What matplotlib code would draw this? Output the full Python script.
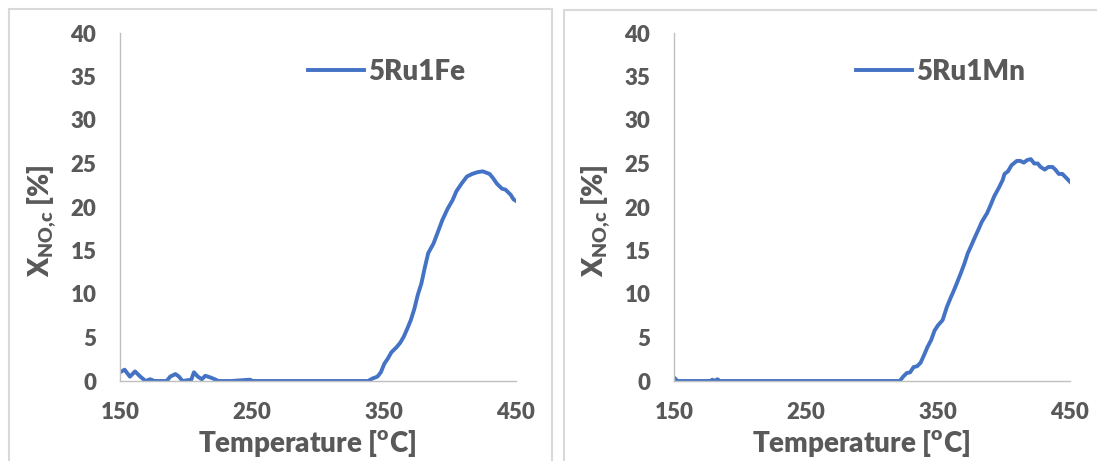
import matplotlib
matplotlib.use("Agg")
import matplotlib.pyplot as plt
from matplotlib.patches import Rectangle

plt.rcParams['font.family'] = ['Lato', 'DejaVu Sans']
plt.rcParams['font.weight'] = 'heavy'

# 5Ru1Fe: temperature [C] and NO conversion [%]
t_fe = [150, 153.5, 157.5, 161.4, 165.4, 169.4, 172.9, 176, 185.4, 188, 192, 194.7,
        197.3, 204, 206, 209, 212, 214.6, 218.6, 221.8, 224.5, 234.6, 248.4, 250.5,
        338, 341, 345, 347.6, 350.3, 353, 355.6, 359.6, 362.3, 365, 367.6, 370.3,
        373, 375.6, 378.3, 381, 383.5, 387.5, 391.5, 394.2, 398.2, 402, 404.8, 408.8,
        412.8, 416.8, 420.8, 424.8, 430, 432.7, 435.4, 439.4, 442, 446, 448, 450]
x_fe = [1.0, 1.3, 0.5, 1.1, 0.5, 0.0, 0.2, 0.0, 0.0, 0.5, 0.8, 0.5,
        0.0, 0.15, 1.0, 0.5, 0.2, 0.6, 0.4, 0.2, 0.0, 0.0, 0.15, 0.0,
        0.0, 0.27, 0.5, 1.0, 2.0, 2.6, 3.3, 3.9, 4.4, 5.1, 6.0, 7.0,
        8.3, 9.9, 11.2, 13.1, 14.7, 15.8, 17.4, 18.5, 19.8, 20.8, 21.8, 22.7,
        23.5, 23.8, 24.0, 24.1, 23.8, 23.3, 22.7, 22.1, 22.0, 21.4, 20.9, 20.7]

# 5Ru1Mn
t_mn = [150, 152.6, 177.8, 179, 180.5, 183, 184.5, 321, 323.6, 326.2, 328.9, 331.5,
        334.2, 336.8, 339.5, 342, 344.8, 347.4, 350, 353.5, 356.7, 359.4, 362, 364.7,
        367.3, 370, 372.6, 375.3, 377.9, 380.6, 383.2, 387.2, 389.8, 392.5, 396.4, 399,
        400.4, 403, 405.7, 409.7, 412.3, 415, 417.6, 420.3, 422.9, 425.6, 427.7, 430.9,
        433.6, 436.7, 438.9, 441.5, 444.2, 446.8, 450]
x_mn = [0.4, 0.0, 0.0, 0.15, 0.0, 0.2, 0.0, 0.0, 0.5, 0.9, 1.0, 1.6,
        1.7, 2.1, 3.0, 3.9, 4.7, 5.8, 6.4, 7.0, 8.5, 9.5, 10.4, 11.4,
        12.4, 13.5, 14.7, 15.6, 16.5, 17.4, 18.3, 19.3, 20.2, 21.2, 22.3, 23.1,
        23.8, 24.1, 24.8, 25.3, 25.3, 25.1, 25.4, 25.5, 25.0, 25.0, 24.6, 24.3,
        24.6, 24.6, 24.3, 23.8, 23.8, 23.4, 22.9]

x_ticks = [150, 250, 350, 450]
y_ticks = [0, 5, 10, 15, 20, 25, 30, 35, 40]

W, H = 1097, 461
fig = plt.figure(figsize=(W / 100, H / 100), dpi=100)

# light frames around each chart
for x0, y0, x1 in [(9, 9, 552), (564, 10, 1110)]:
    fig.patches.append(Rectangle((x0 / W, -0.1), (x1 - x0) / W, 1.1 - y0 / H,
                                 transform=fig.transFigure, fill=False,
                                 edgecolor='#d9d9d9', lw=1.5))

grey = '#595959'
tick_font = {'size': 16, 'weight': 'heavy', 'color': grey}
panels = [(120, t_fe, x_fe, '5Ru1Fe', 0.475), (674, t_mn, x_mn, '5Ru1Mn', 0.46)]

for left, t, x, name, leg_x in panels:
    ax = fig.add_axes([left / W, 80 / H, 396 / W, 348 / H])
    ax.plot(t, x, color='#4472C4', lw=2.8, label=name, solid_joinstyle='round')
    ax.set_xlim(150, 450)
    ax.set_ylim(0, 40)
    ax.set_xticks(x_ticks, [str(v) for v in x_ticks], fontdict=tick_font)
    ax.set_yticks(y_ticks, [str(v) for v in y_ticks], fontdict=tick_font)
    for s in ['top', 'right']:
        ax.spines[s].set_visible(False)
    for s in ['left', 'bottom']:
        ax.spines[s].set_color('#bfbfbf')
        ax.spines[s].set_linewidth(1)
    ax.tick_params(axis='both', length=0)
    ax.tick_params(axis='y', pad=17)
    ax.tick_params(axis='x', pad=15)
    ax.set_xlabel(r'Temperature [$^{\mathregular{o}}$C]', fontsize=20, color=grey,
                  fontweight='heavy')
    ax.xaxis.set_label_coords(0.472, -0.181)
    ax.xaxis.label.set_va('center')
    ax.set_ylabel(r'X$_{\mathregular{NO{,}c}}$ [%]', fontsize=20, color=grey,
                  fontweight='heavy')
    ax.yaxis.set_label_coords(-0.197, 0.46)
    ax.yaxis.label.set_va('center')
    leg = ax.legend(loc='center left', bbox_to_anchor=(leg_x, 0.888), frameon=False,
                    prop={'size': 20, 'weight': 'heavy'}, handlelength=2.0,
                    handletextpad=0.15, borderpad=0, borderaxespad=0)
    for txt in leg.get_texts():
        txt.set_color(grey)

fig.savefig('out.png', dpi=100)
